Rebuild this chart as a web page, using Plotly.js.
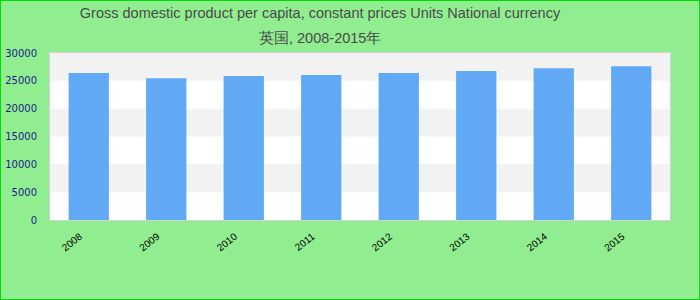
<!DOCTYPE html>
<html>
<head>
<meta charset="utf-8">
<script src="https://cdn.plot.ly/plotly-3.0.1.min.js"></script>
<style>
  html, body { margin: 0; padding: 0; background: #90EE90; }
  #wrap { position: relative; width: 700px; height: 300px; }
  #chart { width: 700px; height: 300px; }
  #frame { position: absolute; left: 0; top: 0; width: 700px; height: 300px; box-sizing: border-box; border: 1px solid #00e000; pointer-events: none; }
</style>
</head>
<body>
<div id="wrap"><div id="chart"></div><div id="frame"></div></div>
<script>
const titleLine1 = 'Gross domestic product per capita, constant prices Units National currency';
const titleLine2 = '英国, 2008-2015年';
const years = ['2008', '2009', '2010', '2011', '2012', '2013', '2014', '2015'];
const gdpPerCapita = [26390, 25480, 25850, 26030, 26390, 26750, 27280, 27640];
const yTickValues = [0, 5000, 10000, 15000, 20000, 25000, 30000];

// alternating background bands between the y ticks
const bands = [];
for (let i = 0; i < yTickValues.length - 1; i++) {
  if (i % 2 === 1) {
    bands.push({
      type: 'rect', xref: 'paper', yref: 'y', layer: 'below',
      x0: 0, x1: 1, y0: yTickValues[i], y1: yTickValues[i + 1],
      fillcolor: '#f2f2f2', line: { width: 0 }
    });
  }
}

const trace = {
  type: 'bar',
  x: years,
  y: gdpPerCapita,
  marker: { color: '#62a9f5', line: { width: 0 } },
  hoverinfo: 'x+y'
};

const titleFont = { family: 'Liberation Sans, Arial, sans-serif', size: 14.5, color: '#4a4a4a' };

const layout = {
  width: 700, height: 300,
  margin: { l: 50, r: 30, t: 53, b: 80, pad: 0 },
  paper_bgcolor: '#90EE90',
  plot_bgcolor: '#ffffff',
  showlegend: false,
  bargap: 0.48,
  title: {
    text: titleLine1,
    font: titleFont,
    x: 320 / 700, xanchor: 'center', xref: 'container',
    y: 1 - 13 / 300, yanchor: 'middle', yref: 'container'
  },
  annotations: [{
    text: titleLine2, showarrow: false,
    xref: 'paper', x: (320 - 50) / 620, xanchor: 'center',
    yref: 'paper', y: 1 + 15 / 167, yanchor: 'middle',
    font: titleFont
  }],
  shapes: bands,
  xaxis: {
    type: 'category',
    showgrid: false, zeroline: false,
    showline: true, mirror: true, linecolor: '#d4d4d4', linewidth: 1,
    ticks: '', tickangle: -38,
    ticklabelshift: -9, ticklabelstandoff: 6,
    tickfont: { family: 'Liberation Sans, Arial, sans-serif', size: 10, color: '#000000' }
  },
  yaxis: {
    range: [0, 30000],
    tickvals: yTickValues,
    ticktext: yTickValues.map(String),
    showgrid: false, zeroline: false,
    showline: true, mirror: true, linecolor: '#d4d4d4', linewidth: 1,
    ticks: '', ticklabelstandoff: 10,
    tickfont: { family: 'DejaVu Sans, sans-serif', size: 10, color: '#1c1c8c' }
  }
};

Plotly.newPlot('chart', [trace], layout, { displayModeBar: false, staticPlot: true });
</script>
</body>
</html>
